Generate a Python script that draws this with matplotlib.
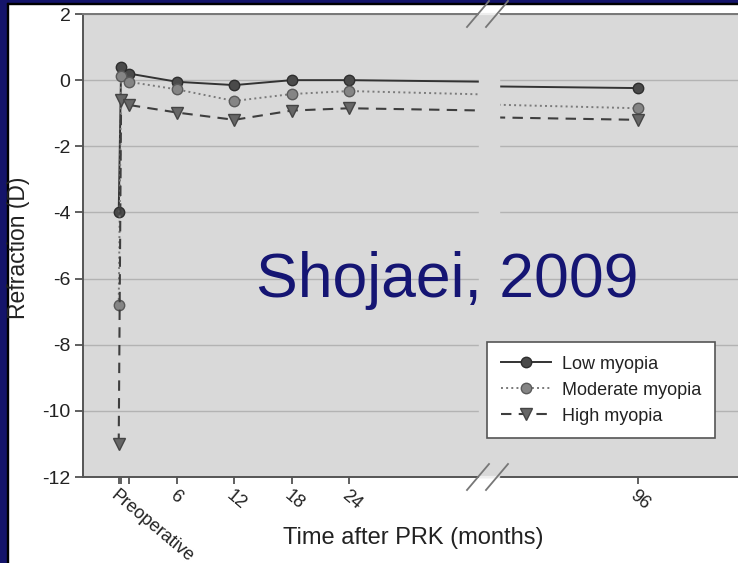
import matplotlib
matplotlib.use('Agg')
import matplotlib.pyplot as plt
from matplotlib.patches import Rectangle
from matplotlib.lines import Line2D

plt.rcParams['font.family'] = ['Liberation Sans', 'DejaVu Sans']
plt.rcParams['axes.unicode_minus'] = False

# ---- data ----
months = [-0.1, 0.15, 0.95, 6, 12, 18, 24, 96]
tick_labels = ['Preoperative', '', '', '6', '12', '18', '24', '96']
low = [-4.0, 0.4, 0.2, -0.05, -0.15, 0.0, 0.0, -0.24]
moderate = [-6.8, 0.12, -0.05, -0.28, -0.63, -0.42, -0.33, -0.85]
high = [-11.0, -0.6, -0.75, -0.98, -1.2, -0.92, -0.85, -1.2]
series_names = ['Low myopia', 'Moderate myopia', 'High myopia']
yticks = [2, 0, -2, -4, -6, -8, -10, -12]

W, H = 738, 563
fig = plt.figure(figsize=(W / 100, H / 100), dpi=100)
fig.patch.set_facecolor('white')

def fx(px):
    return px / W

def fy(py):
    return 1 - py / H

BG = '#d9d9d9'
top_px, bot_px = 14, 477
left_px, brk1, brk2 = 83, 480, 498

# slide border
fig.patches.append(Rectangle((0, 0), fx(7), 1, transform=fig.transFigure,
                             color='#14146a', zorder=0))
fig.patches.append(Rectangle((0, fy(3)), 1, 3 / H, transform=fig.transFigure,
                             color='#14146a', zorder=0))
fig.patches.append(Rectangle((fx(7), 0), fx(1.2), fy(3), transform=fig.transFigure,
                             color='#000000', zorder=0))
fig.patches.append(Rectangle((fx(7), fy(4)), 1, 1.2 / H, transform=fig.transFigure,
                             color='#000000', zorder=0))

# gap fill between broken axes
fig.patches.append(Rectangle((fx(brk1 - 1), fy(bot_px)), fx(brk2 - brk1 + 2),
                             (bot_px - top_px) / H, transform=fig.transFigure,
                             color=BG, zorder=0))

ax1 = fig.add_axes([fx(left_px), fy(bot_px), fx(brk1 - left_px), (bot_px - top_px) / H])
ax2 = fig.add_axes([fx(brk2), fy(bot_px), fx(W - brk2) + 0.02, (bot_px - top_px) / H])

pxm = (349 - 177) / 18.0
m0 = 177 - 6 * pxm

styles = [
    dict(color='#333333', ls='-', lw=1.4, marker='o', mfc='#4a4a4a', mec='#2e2e2e', ms=7.5),
    dict(color='#7a7a7a', ls=':', lw=1.4, marker='o', mfc='#858585', mec='#5a5a5a', ms=7.5),
    dict(color='#3e3e3e', ls=(0, (5, 3.5)), lw=1.5, marker='v', mfc='#666666', mec='#444444', ms=8),
]
data = [low, moderate, high]

handles = []
for ax in (ax1, ax2):
    ax.set_facecolor(BG)
    ax.set_yticks(yticks)
    ax.yaxis.grid(True, color='#b3b3b3', lw=1.0)
    ax.set_axisbelow(True)
    for sp in ax.spines.values():
        sp.set_color('#555555')
        sp.set_linewidth(1.4)
    ax.spines['top'].set_color('#777777')
    ax.set_xticks(months)
    ax.set_xticklabels(tick_labels)
    ax.tick_params(axis='x', length=5, width=1.2, color='#444444', labelsize=13,
                   labelcolor='#222222', pad=2)
    for lbl in ax.get_xticklabels():
        lbl.set_rotation(-40)
        lbl.set_ha('left')
        lbl.set_va('top')
        lbl.set_rotation_mode('anchor')
    for vals, st, name in zip(data, styles, series_names):
        h, = ax.plot(months, vals, label=name, zorder=3, **st)
        if ax is ax1:
            handles.append(h)
    ax.set_ylim(-12, 2)

ax1.set_xlim((left_px - m0) / pxm, (brk1 - m0) / pxm)
ax2.set_xlim(96 - (638 - brk2) / pxm, 96 + (W + 15 - 638) / pxm)

ax1.spines['right'].set_visible(False)
ax2.spines['left'].set_visible(False)
ax2.spines['right'].set_visible(False)
ax1.tick_params(axis='y', length=6, width=1.2, color='#444444', labelsize=14,
                labelcolor='#222222', pad=3)
ax2.tick_params(axis='y', left=False, labelleft=False)

# light gap in the spines between break marks
for cy in (top_px, bot_px):
    fig.add_artist(Line2D([fx(brk1), fx(brk2)], [fy(cy), fy(cy)],
                          transform=fig.transFigure, color='#eeeeee', lw=1.6))

# break marks
for cx in (478, 497):
    for cy in (top_px, bot_px):
        fig.add_artist(Line2D([fx(cx - 11), fx(cx + 11)], [fy(cy + 13), fy(cy - 13)],
                              transform=fig.transFigure, color='#777777', lw=1.3))

# labels
fig.text(fx(413), fy(538), 'Time after PRK (months)', ha='center', va='center',
         fontsize=17, color='#222222')
fig.text(fx(19), fy(248), 'Refraction (D)', ha='center', va='center', rotation=90,
         fontsize=16.5, color='#222222')

fig.text(fx(447), fy(297), 'Shojaei, 2009', ha='center', va='baseline',
         fontsize=45, color='#151573')

leg = fig.legend(handles=handles, loc='upper left',
                 bbox_to_anchor=(fx(487), fy(342)), frameon=True, fancybox=False,
                 framealpha=1, edgecolor='#555555', facecolor='white', fontsize=13,
                 handlelength=2.8, borderpad=0.75, labelspacing=0.5, handletextpad=0.6,
                 borderaxespad=0)
leg.get_frame().set_linewidth(1.2)
for t in leg.get_texts():
    t.set_color('#222222')

fig.savefig('out.png', dpi=100, facecolor=fig.get_facecolor())
